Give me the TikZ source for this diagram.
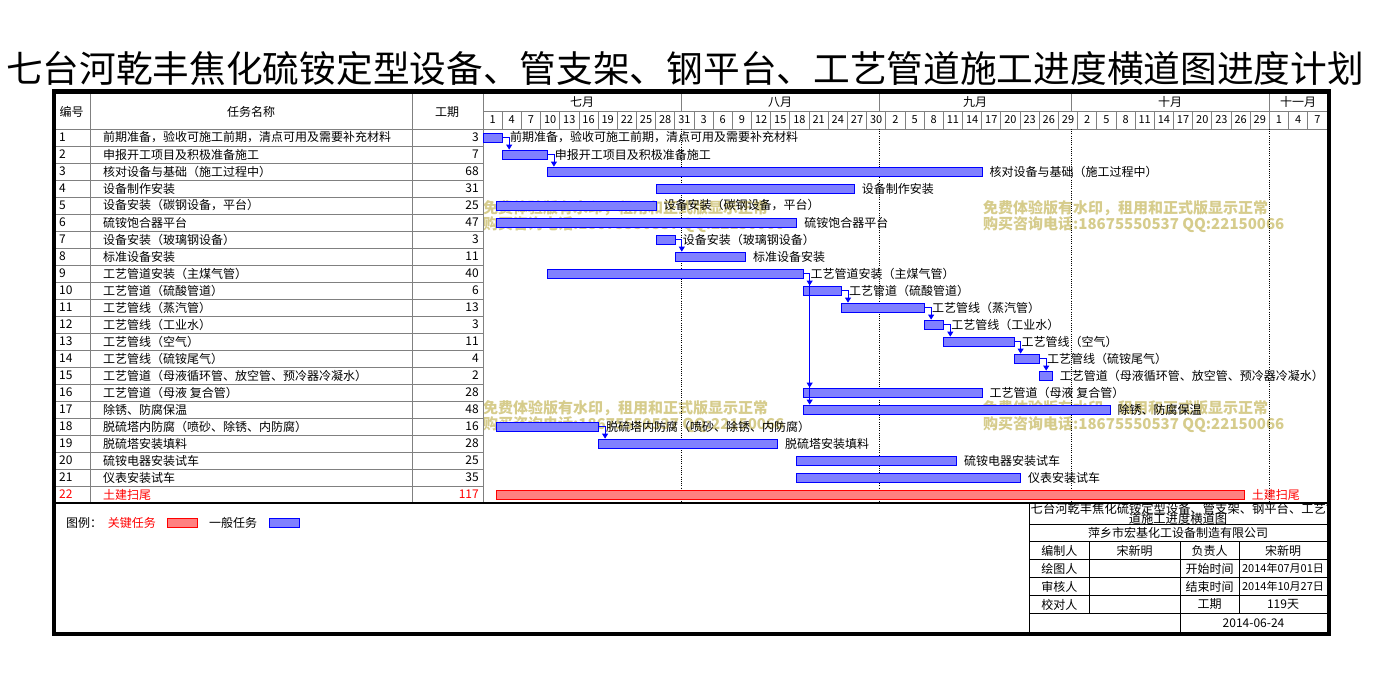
\documentclass[tikz,border=0pt]{standalone}
\usepackage{fontspec}
\newfontfamily\cjk{Noto Sans CJK SC}
\usetikzlibrary{arrows.meta}
\definecolor{gridgray}{RGB}{128,128,128}
\definecolor{wmtan}{RGB}{214,204,140}
\definecolor{genfill}{RGB}{128,128,255}
\definecolor{critfill}{RGB}{255,128,128}
\begin{document}
\begin{tikzpicture}[
        x=1pt, y=-1pt,
        every node/.style={font=\cjk\fontsize{12}{14}\selectfont, inner sep=2pt},
        grid/.style={draw=gridgray, line width=0.8pt},
        rule/.style={draw=black, line width=0.8pt},
        bargen/.style={draw=blue, fill=genfill, line width=0.8pt, minimum height=9pt, inner sep=0pt, anchor=west},
        barcrit/.style={bargen, draw=red, fill=critfill},
        txtgen/.style={anchor=west, text=black},
        txtcrit/.style={anchor=west, text=red},
        dep/.style={draw=blue, line width=0.8pt, -{Triangle[width=6pt,length=5pt]}},
        wm/.style={anchor=west, align=left, text=wmtan, font=\cjk\bfseries\fontsize{15}{16.5}\selectfont},
        day/.style={font=\cjk\fontsize{11}{12}\selectfont},
    ]
    \useasboundingbox[fill=white] (0,0) rectangle (1378,683);

    \node[font=\cjk\fontsize{36.7}{40}\selectfont] (title) at (685,68) {七台河乾丰焦化硫铵定型设备、管支架、钢平台、工艺管道施工进度横道图进度计划};

    \node[wm] (wm1) at (481,216.75) {免费体验版有水印，租用和正式版显示正常\\购买咨询电话:18675550537 QQ:22150066};
    \node[wm] (wm2) at (981,216.75) {免费体验版有水印，租用和正式版显示正常\\购买咨询电话:18675550537 QQ:22150066};
    \node[wm] (wm3) at (481,416.75) {免费体验版有水印，租用和正式版显示正常\\购买咨询电话:18675550537 QQ:22150066};
    \node[wm] (wm4) at (981,416.75) {免费体验版有水印，租用和正式版显示正常\\购买咨询电话:18675550537 QQ:22150066};

    \draw[grid] (90.7,93) -- (90.7,503);
    \draw[grid] (412.7,93) -- (412.7,503);
    \draw[grid] (483,93) -- (483,503);
    \foreach \i in {0,...,21}
        \draw[grid] (56,129+17*\i) -- (483,129+17*\i);
    \draw[grid] (483,111) -- (1327,111);
    \draw[grid] (483,129) -- (1327,129);
    \foreach \k in {1,...,43}
        \draw[grid] ({483+19.18*\k},111) -- ({483+19.18*\k},129);
    \foreach \x in {681,879,1071,1269}{
        \draw[grid] (\x,93) -- (\x,111);
        \draw[black, line width=0.8pt, dash pattern=on 1pt off 1.2pt] (\x,129) -- (\x,503);
    }

    \node (hno) at (71.7,112) {编号};
    \node (hname) at (251,112) {任务名称};
    \node (hdur) at (447,112) {工期};
    \foreach \a/\b/\m [count=\k] in {483/681/七月, 681/879/八月, 879/1071/九月, 1071/1269/十月, 1269/1327/十一月}
        \node (m\k) at ({(\a+\b)/2},102) {\m};
    \foreach \d [count=\k from 0] in {1,4,7,10,13,16,19,22,25,28,31,3,6,9,12,15,18,21,24,27,30,2,5,8,11,14,17,20,23,26,29,2,5,8,11,14,17,20,23,26,29,1,4,7}
        \node[day] (day\k) at ({492.6+19.18*\k},120) {\d};

    \foreach \n/\name/\dur/\st/\k in {
        1/前期准备，验收可施工前期，清点可用及需要补充材料/3/0/gen,
        2/申报开工项目及积极准备施工/7/3/gen,
        3/核对设备与基础（施工过程中）/68/10/gen,
        4/设备制作安装/31/27/gen,
        5/设备安装（碳钢设备，平台）/25/2/gen,
        6/硫铵饱合器平台/47/2/gen,
        7/设备安装（玻璃钢设备）/3/27/gen,
        8/标准设备安装/11/30/gen,
        9/工艺管道安装（主煤气管）/40/10/gen,
        10/工艺管道（硫酸管道）/6/50/gen,
        11/工艺管线（蒸汽管）/13/56/gen,
        12/工艺管线（工业水）/3/69/gen,
        13/工艺管线（空气）/11/72/gen,
        14/工艺管线（硫铵尾气）/4/83/gen,
        15/工艺管道（母液循环管、放空管、预冷器冷凝水）/2/87/gen,
        16/工艺管道（母液\ 复合管）/28/50/gen,
        17/除锈、防腐保温/48/50/gen,
        18/脱硫塔内防腐（喷砂、除锈、内防腐）/16/2/gen,
        19/脱硫塔安装填料/28/18/gen,
        20/硫铵电器安装试车/25/49/gen,
        21/仪表安装试车/35/49/gen,
        22/土建扫尾/117/2/crit}{
        \pgfmathsetmacro\y{120.5+17*\n}
        \node[txt\k] (n\n) at (57,\y) {\n};
        \node[txt\k] (t\n) at (101,\y) {\name};
        \node[txt\k, anchor=east] (d\n) at (481,\y) {\dur};
        \node[bar\k, minimum width={\dur*6.393pt}] (b\n) at ({483+\st*6.393},\y) {};
        \node[txt\k] (l\n) at ([xshift=5pt]b\n.east) {\name};
    }
    \foreach \a/\b in {1/2,2/3,7/8,9/10,9/16,9/17,10/11,11/12,12/13,13/14,14/15,18/19}
        \draw[dep] (b\a.east) -| ([xshift=7pt]b\b.north west);

    \draw[black, line width=1.2pt] (56,503) -- (1327,503);
    \node[txtgen] (key) at (64,523) {图例：};
    \node[txtcrit] (kcrit) at (105.7,523) {关键任务};
    \node[barcrit, minimum width=30pt] (bcrit) at (167,523) {};
    \node[txtgen] (kgen) at (207,523) {一般任务};
    \node[bargen, minimum width=30pt] (bgen) at (269.3,523) {};

    \draw[rule] (1029.3,503) -- (1029.3,634);
    \foreach \y in {524.3,541.7,559.3,577.7,595.7,613.3}
        \draw[rule] (1029.3,\y) -- (1327,\y);
    \draw[rule] (1089.3,541.7) -- (1089.3,613.3);
    \draw[rule] (1180,541.7) -- (1180,634);
    \draw[rule] (1239,541.7) -- (1239,613.3);
    \begin{scope}
        \clip (1029.3,503) rectangle (1327,524.3);
        \node[anchor=west, inner sep=0pt, font=\cjk\fontsize{12.3}{13}\selectfont] (it1) at (1030.5,509) {七台河乾丰焦化硫铵定型设备、管支架、钢平台、工艺管};
        \node[font=\cjk\fontsize{12.3}{13}\selectfont] (it2) at (1178,518.5) {道施工进度横道图};
    \end{scope}
    \node (ico) at (1178,533) {萍乡市宏基化工设备制造有限公司};
    \node (ia1) at (1059.3,550.5) {编制人};
    \node (ib1) at (1134.7,550.5) {宋新明};
    \node (ic1) at (1209.5,550.5) {负责人};
    \node (id1) at (1283,550.5) {宋新明};
    \node (ia2) at (1059.3,568.5) {绘图人};
    \node (ic2) at (1209.5,568.5) {开始时间};
    \node[font=\cjk\fontsize{11}{12}\selectfont] (id2) at (1283,568.5) {2014年07月01日};
    \node (ia3) at (1059.3,586.7) {审核人};
    \node (ic3) at (1209.5,586.7) {结束时间};
    \node[font=\cjk\fontsize{11}{12}\selectfont] (id3) at (1283,586.7) {2014年10月27日};
    \node (ia4) at (1059.3,604.5) {校对人};
    \node (ic4) at (1209.5,604.5) {工期};
    \node (id4) at (1283,604.5) {119天};
    \node (idate) at (1253.5,623.5) {2014-06-24};

    \draw[line width=4.5pt] (54,91.5) rectangle (1329,634);
\end{tikzpicture}
\end{document}
